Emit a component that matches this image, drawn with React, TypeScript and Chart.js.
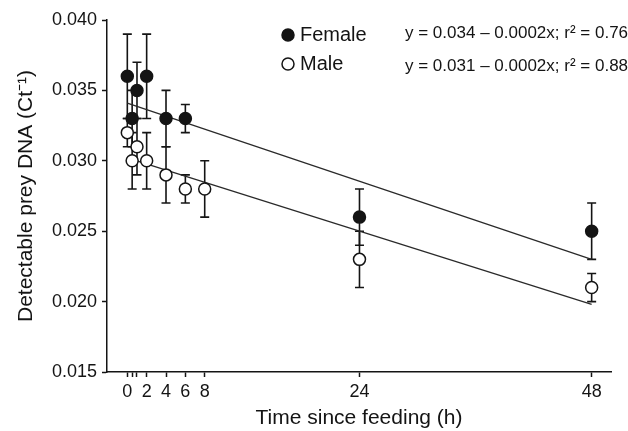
import React, { useEffect, useRef } from "react";
import { Chart, registerables } from "chart.js";

Chart.register(...registerables);

// ---- data ----
const seriesNames = ["Female", "Male"];
const femaleHours = [0, 0.5, 1, 2, 4, 6, 24, 48];
const femaleMean = [0.036, 0.033, 0.035, 0.036, 0.033, 0.033, 0.026, 0.025];
const femaleSE = [0.003, 0.002, 0.002, 0.003, 0.002, 0.001, 0.002, 0.002];
const maleHours = [0, 0.5, 1, 2, 4, 6, 8, 24, 48];
const maleMean = [0.032, 0.03, 0.031, 0.03, 0.029, 0.028, 0.028, 0.023, 0.021];
const maleSE = [0.001, 0.002, 0.002, 0.002, 0.002, 0.001, 0.002, 0.002, 0.001];
const fitHours = [0, 48];
const femaleFit = [0.0341, 0.023];
const maleFit = [0.0302, 0.0198];
const equations = [
  "y = 0.034 \u2013 0.0002x; r\u00B2 = 0.76",
  "y = 0.031 \u2013 0.0002x; r\u00B2 = 0.88",
];
const xTickValues = [0, 0.5, 1, 2, 4, 6, 8, 24, 48];
const xTickLabels = ["0", "", "", "2", "4", "6", "8", "24", "48"];
const yTickValues = [0.015, 0.02, 0.025, 0.03, 0.035, 0.04];
const yTickLabels = ["0.015", "0.020", "0.025", "0.030", "0.035", "0.040"];
const xTitle = "Time since feeding (h)";
const yTitle = "Detectable prey DNA (Ct\u207B\u00B9)";

const FONT = "'Liberation Sans', Arial, Helvetica, sans-serif";
const INK = "#141414";

const errorBars = {
  id: "errorBars",
  beforeDatasetsDraw(chart: any) {
    const ctx = chart.ctx;
    const yScale = chart.scales.y;
    ctx.save();
    ctx.strokeStyle = INK;
    ctx.lineWidth = 1.6;
    chart.data.datasets.forEach((ds: any, i: number) => {
      if (!ds.errors) return;
      const meta = chart.getDatasetMeta(i);
      meta.data.forEach((pt: any, j: number) => {
        const v = ds.data[j].y;
        const e = ds.errors[j];
        const x = pt.x;
        const yHi = yScale.getPixelForValue(v + e);
        const yLo = yScale.getPixelForValue(v - e);
        const cap = 4.5;
        ctx.beginPath();
        ctx.moveTo(x, yHi);
        ctx.lineTo(x, yLo);
        ctx.moveTo(x - cap, yHi);
        ctx.lineTo(x + cap, yHi);
        ctx.moveTo(x - cap, yLo);
        ctx.lineTo(x + cap, yLo);
        ctx.stroke();
      });
    });
    ctx.restore();
  },
};

const overlay = {
  id: "overlay",
  afterDraw(chart: any) {
    const ctx = chart.ctx;
    ctx.save();
    const rows = [35, 64];
    const eqRows = [33, 66];
    seriesNames.forEach((name, i) => {
      const cy = rows[i];
      ctx.beginPath();
      ctx.arc(288, cy, 6, 0, Math.PI * 2);
      ctx.fillStyle = i === 0 ? INK : "#ffffff";
      ctx.fill();
      ctx.lineWidth = 1.5;
      ctx.strokeStyle = INK;
      ctx.stroke();
      ctx.fillStyle = INK;
      ctx.font = `20px ${FONT}`;
      ctx.textAlign = "left";
      ctx.textBaseline = "middle";
      ctx.fillText(name, 300, cy);
      ctx.font = `17px ${FONT}`;
      ctx.fillText(equations[i], 405, eqRows[i]);
    });
    ctx.restore();
  },
};

export default function App() {
  const ref = useRef<HTMLCanvasElement | null>(null);

  useEffect(() => {
    if (!ref.current) return;
    const femalePts = femaleHours.map((h, i) => ({ x: h, y: femaleMean[i] }));
    const malePts = maleHours.map((h, i) => ({ x: h, y: maleMean[i] }));
    const fFit = fitHours.map((h, i) => ({ x: h, y: femaleFit[i] }));
    const mFit = fitHours.map((h, i) => ({ x: h, y: maleFit[i] }));

    const chart = new Chart(ref.current, {
      type: "scatter",
      data: {
        datasets: [
          {
            label: seriesNames[0],
            data: femalePts,
            errors: femaleSE,
            pointRadius: 6,
            pointHoverRadius: 6,
            pointBackgroundColor: INK,
            pointBorderColor: INK,
            pointBorderWidth: 1.5,
          } as any,
          {
            label: seriesNames[1],
            data: malePts,
            errors: maleSE,
            pointRadius: 6,
            pointHoverRadius: 6,
            pointBackgroundColor: "#ffffff",
            pointBorderColor: INK,
            pointBorderWidth: 1.5,
          } as any,
          {
            label: "Female fit",
            data: fFit,
            showLine: true,
            pointRadius: 0,
            borderColor: "#2a2a2a",
            borderWidth: 1.3,
          },
          {
            label: "Male fit",
            data: mFit,
            showLine: true,
            pointRadius: 0,
            borderColor: "#2a2a2a",
            borderWidth: 1.3,
          },
        ],
      },
      options: {
        responsive: false,
        animation: false,
        devicePixelRatio: 1,
        layout: {
          autoPadding: false,
          padding: { left: 0, top: 20, right: 17, bottom: 0 },
        },
        plugins: {
          legend: { display: false },
          tooltip: { enabled: false },
        },
        scales: {
          x: {
            type: "linear",
            min: -2.1,
            max: 50,
            afterFit(axis: any) {
              axis.height = 59;
            },
            afterBuildTicks(axis: any) {
              axis.ticks = xTickValues.map((v) => ({ value: v }));
            },
            ticks: {
              autoSkip: false,
              maxRotation: 0,
              padding: 4,
              color: INK,
              font: { family: FONT, size: 18 },
              callback: (value: any) => {
                const idx = xTickValues.indexOf(Number(value));
                return idx >= 0 ? xTickLabels[idx] : "";
              },
            },
            grid: {
              drawOnChartArea: false,
              drawTicks: true,
              tickLength: 5,
              tickWidth: 1.5,
              tickColor: INK,
            },
            border: { display: true, color: INK, width: 1.5 },
            title: {
              display: true,
              text: xTitle,
              color: INK,
              font: { family: FONT, size: 21 },
              padding: { top: 0, bottom: 0 },
            },
          },
          y: {
            type: "linear",
            min: 0.015,
            max: 0.04,
            afterFit(axis: any) {
              axis.width = 107;
            },
            afterBuildTicks(axis: any) {
              axis.ticks = yTickValues.map((v) => ({ value: v }));
            },
            ticks: {
              autoSkip: false,
              padding: 5,
              color: INK,
              font: { family: FONT, size: 18 },
              callback: (value: any) => {
                const idx = yTickValues.findIndex((v) => Math.abs(v - Number(value)) < 1e-9);
                return idx >= 0 ? yTickLabels[idx] : "";
              },
            },
            grid: {
              drawOnChartArea: false,
              drawTicks: true,
              tickLength: 5,
              tickWidth: 1.5,
              tickColor: INK,
            },
            border: { display: true, color: INK, width: 1.5 },
            title: {
              display: true,
              text: yTitle,
              color: INK,
              font: { family: FONT, size: 21 },
              padding: { top: 14, bottom: 0 },
            },
          },
        },
      },
      plugins: [errorBars, overlay],
    } as any);

    return () => chart.destroy();
  }, []);

  return (
    <div style={{ position: "absolute", left: 0, top: 0, width: 628, height: 431, background: "#fff" }}>
      <canvas ref={ref} width={628} height={431} />
    </div>
  );
}
